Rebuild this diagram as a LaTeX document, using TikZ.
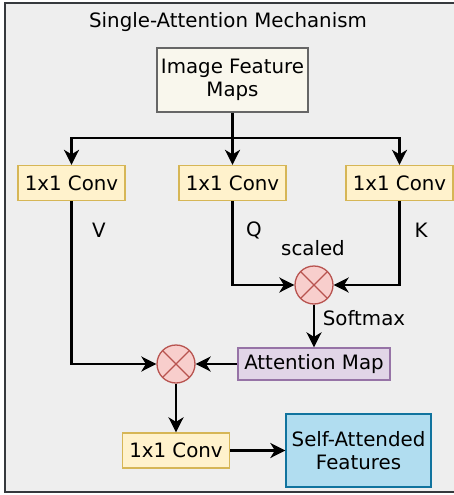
\documentclass[tikz,border=0pt]{standalone}
\usepackage{fontspec}
\setmainfont{DejaVu Sans}
\usetikzlibrary{arrows.meta}
\definecolor{outerfill}{HTML}{EEEEEE}
\definecolor{outerline}{HTML}{36393D}
\definecolor{imgfill}{HTML}{F9F7ED}
\definecolor{imgline}{HTML}{666666}
\definecolor{convfill}{HTML}{FFF2CC}
\definecolor{convline}{HTML}{D6B656}
\definecolor{mulfill}{HTML}{F8CECC}
\definecolor{mulline}{HTML}{B85450}
\definecolor{attfill}{HTML}{E1D5E7}
\definecolor{attline}{HTML}{9673A6}
\definecolor{saffill}{HTML}{B1DDF0}
\definecolor{safline}{HTML}{10739E}
\begin{document}
\begin{tikzpicture}[x=1pt,y=-1pt,
  every node/.style={font=\fontsize{19.8}{23.5}\selectfont, inner sep=0pt},
  box/.style={draw, line width=1.3pt, minimum width=#1, align=center},
  conv/.style={box=107pt, fill=convfill, draw=convline, minimum height=35pt},
  mul/.style={circle, fill=mulfill, draw=mulline, line width=1.3pt, minimum size=38pt,
    path picture={\draw[mulline, line width=1.3pt]
      (path picture bounding box.north west) -- (path picture bounding box.south east)
      (path picture bounding box.north east) -- (path picture bounding box.south west);}},
  arr/.style={line width=2.7pt, -{Stealth[length=15pt,width=15pt,inset=4.5pt]}},
  ln/.style={line width=2.7pt},
  lbl/.style={font=\fontsize{19.8}{23.5}\selectfont}
]
\useasboundingbox (0,0) rectangle (454,495);
\draw[fill=outerfill, draw=outerline, line width=1.6pt] (5,3) rectangle (470,492);
\node[lbl] (title) at (228,22) {Single-Attention Mechanism};

\node[box=151pt, minimum height=64pt, fill=imgfill, draw=imgline] (img) at (232.5,80)
  {Image Feature\\[-1pt]Maps};

\node[conv] (cv) at (71.5,183) {1x1 Conv};
\node[conv] (cq) at (232.5,183) {1x1 Conv};
\node[conv] (ck) at (399.5,183) {1x1 Conv};

\coordinate (split) at (232.5,138);
\draw[ln] (img.south) -- (split);
\draw[arr] (split) -| (cv.north);
\draw[arr] (split) -- (cq.north);
\draw[arr] (split) -| (ck.north);

\node[mul] (m1) at (314,285) {};
\node[mul] (m2) at (176,364) {};

\node[lbl] (vl) at (99,230) {V};
\node[lbl] (ql) at (254,230) {Q};
\node[lbl] (kl) at (421,230) {K};
\node[lbl] (sc) at (313,248) {scaled};
\node[lbl] (sm) at (364,318) {Softmax};

\draw[arr] (cq.south) |- (m1.west);
\draw[arr] (ck.south) |- (m1.east);

\node[box=152pt, minimum height=32pt, fill=attfill, draw=attline] (att) at (314,364) {Attention Map};
\draw[arr] (m1.south) -- (att.north);

\draw[arr] (cv.south) |- (m2.west);
\draw[arr] (att.west) -- (m2.east);

\node[conv] (co) at (176,450.5) {1x1 Conv};
\draw[arr] (m2.south) -- (co.north);

\node[box=145pt, minimum height=73pt, fill=saffill, draw=safline] (saf) at (358.5,450.5)
  {Self-Attended\\[-1pt]Features};
\draw[arr] (co.east) -- (saf.west);
\end{tikzpicture}
\end{document}
